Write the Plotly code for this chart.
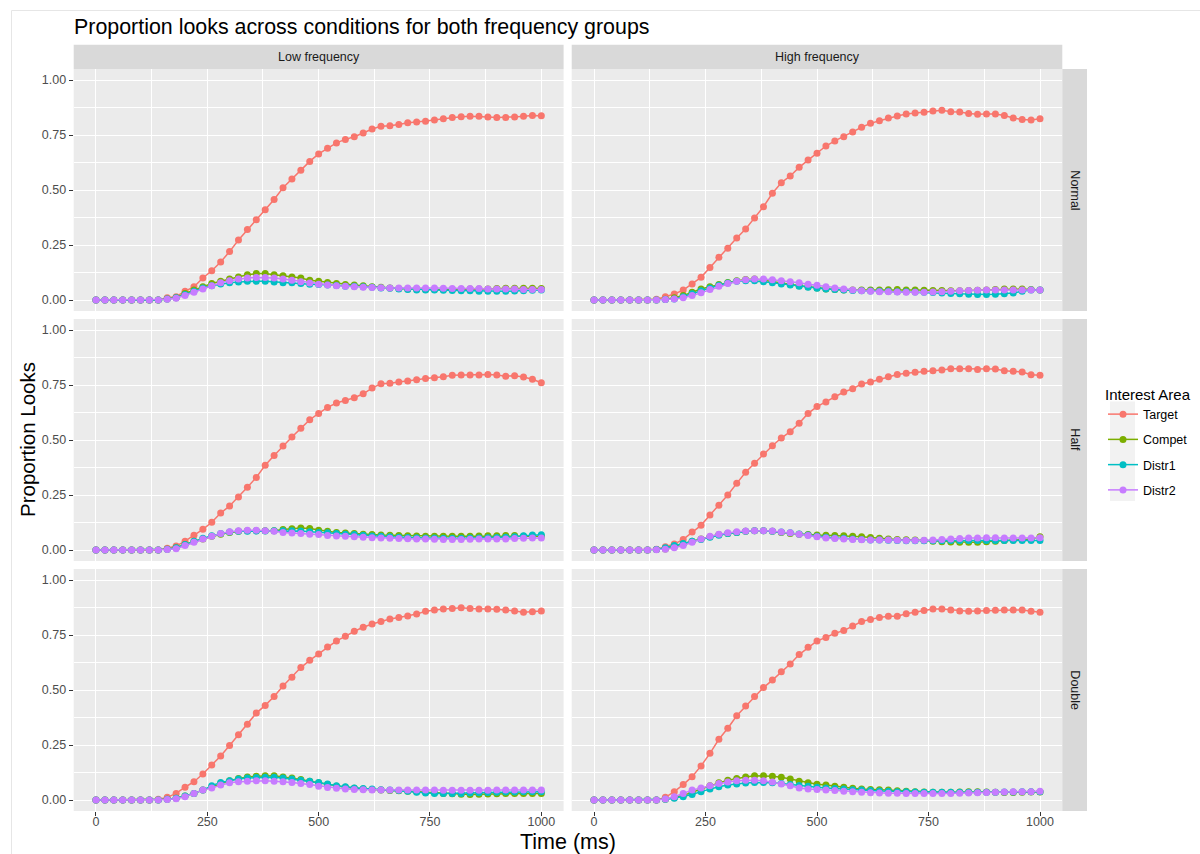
import plotly.graph_objects as go

# ---------------- data ----------------
time_ms = list(range(0, 1001, 20))

series_names = ["Target", "Compet", "Distr1", "Distr2"]
series_colors = ["#F8766D", "#7CAE00", "#00BFC4", "#C77CFF"]
freq_groups = ["Low frequency", "High frequency"]
conditions = ["Normal", "Half", "Double"]

y_tick_vals = [0, 0.25, 0.5, 0.75, 1.0]
y_tick_text = ["0.00", "0.25", "0.50", "0.75", "1.00"]
x_tick_vals = [0, 250, 500, 750, 1000]
x_tick_text = ["0", "250", "500", "750", "1000"]

# Low frequency / Normal
low_normal_target = [0, 0, 0, 0, 0, 0, 0, 0,
    0.010, 0.015, 0.040, 0.060, 0.100, 0.133, 0.173, 0.220, 0.273, 0.320,
    0.365, 0.410, 0.457, 0.510, 0.550, 0.590, 0.630, 0.664, 0.690, 0.714,
    0.730, 0.742, 0.759, 0.777, 0.790, 0.792, 0.798, 0.806, 0.809, 0.812,
    0.818, 0.824, 0.830, 0.833, 0.835, 0.835, 0.832, 0.830, 0.830, 0.832,
    0.835, 0.839, 0.838]
low_normal_compet = [0, 0, 0, 0, 0, 0, 0, 0,
    0.005, 0.010, 0.030, 0.045, 0.060, 0.075, 0.085, 0.095, 0.105, 0.115,
    0.120, 0.120, 0.115, 0.110, 0.105, 0.100, 0.090, 0.085, 0.080, 0.075,
    0.070, 0.068, 0.065, 0.060, 0.058, 0.055, 0.052, 0.050, 0.050, 0.048,
    0.048, 0.048, 0.048, 0.048, 0.050, 0.050, 0.050, 0.052, 0.053, 0.053,
    0.053, 0.053, 0.052]
low_normal_distr1 = [0, 0, 0, 0, 0, 0, 0, 0,
    0.005, 0.010, 0.025, 0.040, 0.055, 0.065, 0.073, 0.078, 0.082, 0.085,
    0.085, 0.085, 0.082, 0.078, 0.078, 0.075, 0.072, 0.070, 0.068, 0.066,
    0.063, 0.062, 0.060, 0.058, 0.055, 0.053, 0.050, 0.048, 0.046, 0.045,
    0.045, 0.044, 0.043, 0.042, 0.042, 0.040, 0.040, 0.040, 0.040, 0.041,
    0.042, 0.044, 0.046]
low_normal_distr2 = [0, 0, 0, 0, 0, 0, 0, 0,
    0.003, 0.008, 0.020, 0.035, 0.050, 0.065, 0.078, 0.088, 0.095, 0.100,
    0.102, 0.102, 0.100, 0.095, 0.090, 0.083, 0.077, 0.072, 0.068, 0.065,
    0.062, 0.060, 0.058, 0.057, 0.056, 0.055, 0.054, 0.055, 0.055, 0.055,
    0.054, 0.053, 0.052, 0.052, 0.052, 0.052, 0.050, 0.050, 0.050, 0.050,
    0.048, 0.048, 0.048]

# High frequency / Normal
high_normal_target = [0, 0, 0, 0, 0, 0, 0, 0.003,
    0.015, 0.027, 0.045, 0.073, 0.103, 0.148, 0.194, 0.235, 0.282, 0.323,
    0.373, 0.424, 0.485, 0.533, 0.564, 0.603, 0.636, 0.667, 0.700, 0.723,
    0.742, 0.764, 0.785, 0.803, 0.815, 0.827, 0.836, 0.845, 0.850, 0.853,
    0.859, 0.862, 0.856, 0.855, 0.848, 0.844, 0.845, 0.845, 0.839, 0.827,
    0.821, 0.818, 0.824]
high_normal_compet = [0, 0, 0, 0, 0, 0, 0, 0,
    0.003, 0.010, 0.020, 0.035, 0.050, 0.060, 0.070, 0.080, 0.088, 0.093,
    0.095, 0.090, 0.085, 0.080, 0.072, 0.065, 0.060, 0.055, 0.050, 0.048,
    0.046, 0.045, 0.045, 0.045, 0.046, 0.047, 0.048, 0.046, 0.045, 0.044,
    0.043, 0.043, 0.042, 0.042, 0.043, 0.044, 0.045, 0.048, 0.050, 0.050,
    0.050, 0.048, 0.045]
high_normal_distr1 = [0, 0, 0, 0, 0, 0, 0, 0,
    0.002, 0.005, 0.015, 0.028, 0.042, 0.055, 0.067, 0.077, 0.085, 0.088,
    0.087, 0.083, 0.078, 0.073, 0.068, 0.063, 0.058, 0.053, 0.050, 0.048,
    0.045, 0.043, 0.042, 0.041, 0.040, 0.040, 0.038, 0.037, 0.036, 0.035,
    0.034, 0.032, 0.030, 0.028, 0.026, 0.025, 0.025, 0.026, 0.028, 0.032,
    0.040, 0.045, 0.045]
high_normal_distr2 = [0, 0, 0, 0, 0, 0, 0, 0,
    0.002, 0.004, 0.010, 0.020, 0.033, 0.048, 0.062, 0.075, 0.085, 0.092,
    0.095, 0.095, 0.092, 0.088, 0.083, 0.078, 0.072, 0.067, 0.060, 0.055,
    0.050, 0.045, 0.042, 0.040, 0.038, 0.037, 0.036, 0.035, 0.035, 0.035,
    0.036, 0.038, 0.040, 0.042, 0.043, 0.044, 0.045, 0.045, 0.046, 0.046,
    0.046, 0.046, 0.046]

# Low frequency / Half
low_half_target = [0, 0, 0, 0, 0, 0, 0, 0,
    0.008, 0.018, 0.040, 0.067, 0.094, 0.126, 0.168, 0.200, 0.241, 0.285,
    0.330, 0.385, 0.430, 0.473, 0.514, 0.553, 0.592, 0.621, 0.648, 0.668,
    0.679, 0.692, 0.710, 0.736, 0.756, 0.758, 0.764, 0.768, 0.774, 0.780,
    0.783, 0.788, 0.794, 0.795, 0.795, 0.795, 0.798, 0.795, 0.790, 0.792,
    0.786, 0.776, 0.760]
low_half_compet = [0, 0, 0, 0, 0, 0, 0, 0,
    0.003, 0.010, 0.025, 0.040, 0.050, 0.062, 0.072, 0.080, 0.085, 0.087,
    0.088, 0.088, 0.088, 0.093, 0.097, 0.100, 0.098, 0.090, 0.085, 0.080,
    0.077, 0.075, 0.072, 0.070, 0.068, 0.067, 0.066, 0.065, 0.064, 0.063,
    0.063, 0.062, 0.062, 0.063, 0.063, 0.064, 0.065, 0.065, 0.066, 0.066,
    0.063, 0.062, 0.063]
low_half_distr1 = [0, 0, 0, 0, 0, 0, 0, 0,
    0.003, 0.010, 0.025, 0.040, 0.053, 0.065, 0.075, 0.082, 0.085, 0.085,
    0.086, 0.086, 0.087, 0.088, 0.088, 0.086, 0.083, 0.080, 0.078, 0.075,
    0.072, 0.070, 0.067, 0.064, 0.062, 0.060, 0.058, 0.057, 0.056, 0.055,
    0.054, 0.053, 0.053, 0.053, 0.054, 0.055, 0.056, 0.057, 0.058, 0.060,
    0.065, 0.068, 0.069]
low_half_distr2 = [0, 0, 0, 0, 0, 0, 0, 0,
    0.002, 0.006, 0.020, 0.035, 0.050, 0.063, 0.075, 0.083, 0.087, 0.090,
    0.090, 0.088, 0.085, 0.080, 0.077, 0.075, 0.072, 0.070, 0.066, 0.064,
    0.062, 0.060, 0.058, 0.056, 0.054, 0.053, 0.052, 0.051, 0.050, 0.050,
    0.049, 0.048, 0.048, 0.048, 0.049, 0.050, 0.050, 0.050, 0.050, 0.052,
    0.053, 0.054, 0.055]

# High frequency / Half
high_half_target = [0, 0, 0, 0, 0, 0, 0, 0.003,
    0.015, 0.027, 0.048, 0.082, 0.112, 0.159, 0.203, 0.250, 0.303, 0.353,
    0.394, 0.436, 0.474, 0.509, 0.538, 0.576, 0.621, 0.652, 0.673, 0.697,
    0.718, 0.733, 0.755, 0.764, 0.776, 0.788, 0.798, 0.803, 0.808, 0.812,
    0.815, 0.818, 0.824, 0.824, 0.824, 0.821, 0.824, 0.823, 0.815, 0.812,
    0.809, 0.797, 0.794]
high_half_compet = [0, 0, 0, 0, 0, 0, 0, 0.002,
    0.005, 0.015, 0.028, 0.040, 0.050, 0.060, 0.070, 0.075, 0.080, 0.085,
    0.088, 0.088, 0.085, 0.080, 0.075, 0.072, 0.070, 0.068, 0.067, 0.066,
    0.065, 0.063, 0.060, 0.057, 0.053, 0.050, 0.048, 0.047, 0.045, 0.043,
    0.040, 0.038, 0.036, 0.035, 0.035, 0.035, 0.037, 0.040, 0.043, 0.046,
    0.048, 0.050, 0.060]
high_half_distr1 = [0, 0, 0, 0, 0, 0, 0, 0.002,
    0.010, 0.020, 0.030, 0.040, 0.048, 0.058, 0.067, 0.075, 0.080, 0.085,
    0.088, 0.088, 0.085, 0.082, 0.078, 0.073, 0.068, 0.063, 0.058, 0.055,
    0.053, 0.050, 0.048, 0.046, 0.045, 0.044, 0.043, 0.042, 0.042, 0.042,
    0.042, 0.042, 0.043, 0.043, 0.043, 0.043, 0.043, 0.043, 0.043, 0.043,
    0.043, 0.043, 0.043]
high_half_distr2 = [0, 0, 0, 0, 0, 0, 0, 0.001,
    0.003, 0.010, 0.020, 0.035, 0.050, 0.062, 0.072, 0.078, 0.083, 0.086,
    0.088, 0.088, 0.086, 0.082, 0.078, 0.072, 0.066, 0.060, 0.055, 0.052,
    0.050, 0.048, 0.047, 0.046, 0.045, 0.045, 0.044, 0.043, 0.043, 0.044,
    0.045, 0.048, 0.050, 0.052, 0.054, 0.055, 0.056, 0.056, 0.055, 0.054,
    0.054, 0.055, 0.056]

# Low frequency / Double
low_double_target = [0, 0, 0, 0, 0, 0, 0, 0.003,
    0.012, 0.030, 0.058, 0.083, 0.118, 0.159, 0.200, 0.248, 0.297, 0.344,
    0.395, 0.430, 0.470, 0.518, 0.558, 0.602, 0.635, 0.664, 0.695, 0.723,
    0.744, 0.767, 0.785, 0.800, 0.811, 0.823, 0.830, 0.836, 0.845, 0.858,
    0.864, 0.868, 0.871, 0.874, 0.871, 0.868, 0.868, 0.867, 0.864, 0.859,
    0.853, 0.856, 0.859]
low_double_compet = [0, 0, 0, 0, 0, 0, 0, 0,
    0.003, 0.008, 0.018, 0.030, 0.045, 0.060, 0.075, 0.088, 0.098, 0.105,
    0.108, 0.110, 0.110, 0.105, 0.100, 0.093, 0.085, 0.078, 0.070, 0.063,
    0.058, 0.053, 0.050, 0.048, 0.045, 0.043, 0.042, 0.040, 0.038, 0.035,
    0.033, 0.030, 0.028, 0.026, 0.025, 0.026, 0.027, 0.028, 0.029, 0.030,
    0.030, 0.030, 0.030]
low_double_distr1 = [0, 0, 0, 0, 0, 0, 0, 0,
    0.003, 0.008, 0.018, 0.030, 0.045, 0.065, 0.080, 0.088, 0.095, 0.100,
    0.102, 0.103, 0.103, 0.100, 0.095, 0.090, 0.085, 0.080, 0.073, 0.065,
    0.060, 0.055, 0.052, 0.050, 0.047, 0.045, 0.043, 0.040, 0.035, 0.032,
    0.030, 0.030, 0.030, 0.030, 0.032, 0.033, 0.034, 0.035, 0.036, 0.036,
    0.037, 0.038, 0.038]
low_double_distr2 = [0, 0, 0, 0, 0, 0, 0, 0,
    0.002, 0.006, 0.015, 0.030, 0.045, 0.055, 0.068, 0.078, 0.083, 0.085,
    0.087, 0.087, 0.085, 0.083, 0.080, 0.075, 0.070, 0.063, 0.057, 0.053,
    0.050, 0.048, 0.047, 0.046, 0.046, 0.045, 0.045, 0.045, 0.045, 0.045,
    0.045, 0.044, 0.044, 0.044, 0.044, 0.044, 0.044, 0.045, 0.045, 0.046,
    0.046, 0.045, 0.046]

# High frequency / Double
high_double_target = [0, 0, 0, 0, 0, 0, 0, 0,
    0.012, 0.038, 0.070, 0.106, 0.155, 0.212, 0.276, 0.326, 0.383, 0.427,
    0.470, 0.511, 0.545, 0.583, 0.618, 0.661, 0.694, 0.723, 0.739, 0.758,
    0.770, 0.791, 0.811, 0.821, 0.830, 0.835, 0.835, 0.847, 0.853, 0.861,
    0.868, 0.868, 0.864, 0.859, 0.858, 0.859, 0.861, 0.862, 0.864, 0.864,
    0.864, 0.858, 0.853]
high_double_compet = [0, 0, 0, 0, 0, 0, 0, 0,
    0.003, 0.010, 0.020, 0.035, 0.050, 0.065, 0.078, 0.090, 0.098, 0.105,
    0.110, 0.110, 0.108, 0.103, 0.095, 0.085, 0.078, 0.072, 0.068, 0.062,
    0.058, 0.053, 0.050, 0.048, 0.047, 0.045, 0.042, 0.040, 0.038, 0.036,
    0.035, 0.035, 0.035, 0.036, 0.037, 0.037, 0.036, 0.035, 0.034, 0.034,
    0.035, 0.036, 0.036]
high_double_distr1 = [0, 0, 0, 0, 0, 0, 0, 0,
    0.003, 0.008, 0.015, 0.025, 0.038, 0.050, 0.060, 0.068, 0.073, 0.077,
    0.079, 0.080, 0.078, 0.075, 0.070, 0.066, 0.062, 0.058, 0.055, 0.052,
    0.050, 0.047, 0.045, 0.043, 0.041, 0.040, 0.038, 0.037, 0.036, 0.035,
    0.035, 0.035, 0.035, 0.035, 0.035, 0.035, 0.035, 0.035, 0.036, 0.036,
    0.037, 0.037, 0.037]
high_double_distr2 = [0, 0, 0, 0, 0, 0, 0, 0,
    0.005, 0.015, 0.030, 0.045, 0.055, 0.065, 0.075, 0.082, 0.088, 0.090,
    0.090, 0.088, 0.082, 0.073, 0.065, 0.055, 0.050, 0.048, 0.045, 0.043,
    0.040, 0.037, 0.035, 0.033, 0.032, 0.031, 0.031, 0.030, 0.030, 0.030,
    0.030, 0.030, 0.030, 0.031, 0.032, 0.033, 0.034, 0.035, 0.036, 0.037,
    0.038, 0.038, 0.040]

panel_data = {
    ("Normal", "Low frequency"): [low_normal_target, low_normal_compet, low_normal_distr1, low_normal_distr2],
    ("Normal", "High frequency"): [high_normal_target, high_normal_compet, high_normal_distr1, high_normal_distr2],
    ("Half", "Low frequency"): [low_half_target, low_half_compet, low_half_distr1, low_half_distr2],
    ("Half", "High frequency"): [high_half_target, high_half_compet, high_half_distr1, high_half_distr2],
    ("Double", "Low frequency"): [low_double_target, low_double_compet, low_double_distr1, low_double_distr2],
    ("Double", "High frequency"): [high_double_target, high_double_compet, high_double_distr1, high_double_distr2],
}

# ---------------- layout helpers ----------------
W, H = 1200, 854
def px_x(p):
    return p / W
def px_y(p):
    return 1 - p / H

col_px = [(73.7, 563.6), (571.7, 1062.3)]
row_px = [(69, 311), (319, 561), (569, 811)]
strip_top_px = 44.7
strip_right_px = 1087

FONT = "Liberation Sans, Arial, Helvetica, sans-serif"
TICK_FONT = dict(family=FONT, size=12.5, color="#4D4D4D")

fig = go.Figure()
layout_axes = {}

for r, cond in enumerate(conditions):
    for c, grp in enumerate(freq_groups):
        k = r * 2 + c + 1
        xs = "" if k == 1 else str(k)
        for name, color, yvals in zip(series_names, series_colors, panel_data[(cond, grp)]):
            fig.add_trace(go.Scatter(
                x=time_ms, y=yvals, mode="lines+markers", name=name,
                line=dict(color=color, width=1.5),
                marker=dict(color=color, size=7),
                xaxis="x" + xs, yaxis="y" + xs,
                legendgroup=name, showlegend=(k == 1),
                hoverinfo="x+y+name",
            ))
        bottom = (r == len(conditions) - 1)
        left = (c == 0)
        layout_axes["xaxis" + xs] = dict(
            domain=[px_x(col_px[c][0]), px_x(col_px[c][1])],
            anchor="y" + xs, range=[-50, 1050],
            tickmode="array", tickvals=x_tick_vals, ticktext=x_tick_text,
            showticklabels=bottom, ticks="outside" if bottom else "",
            ticklen=4, tickwidth=1, tickcolor="#333333", tickfont=TICK_FONT,
            ticklabelstandoff=-5,
            showgrid=True, gridcolor="white", gridwidth=1.1,
            minor=dict(tickmode="array", tickvals=[125, 375, 625, 875],
                       showgrid=True, gridcolor="white", gridwidth=0.55),
            zeroline=False, showline=False, fixedrange=True,
        )
        layout_axes["yaxis" + xs] = dict(
            domain=[px_y(row_px[r][1]), px_y(row_px[r][0])],
            anchor="x" + xs, range=[-0.05, 1.05],
            tickmode="array", tickvals=y_tick_vals, ticktext=y_tick_text,
            showticklabels=left, ticks="outside" if left else "",
            ticklen=4, tickwidth=1, tickcolor="#333333", tickfont=TICK_FONT,
            showgrid=True, gridcolor="white", gridwidth=1.1,
            minor=dict(tickmode="array", tickvals=[0.125, 0.375, 0.625, 0.875],
                       showgrid=True, gridcolor="white", gridwidth=0.55),
            zeroline=False, showline=False, fixedrange=True,
        )

shapes = []
annotations = []
# top strips
for c, grp in enumerate(freq_groups):
    shapes.append(dict(type="rect", xref="paper", yref="paper",
                       x0=px_x(col_px[c][0]), x1=px_x(col_px[c][1]),
                       y0=px_y(row_px[0][0]), y1=px_y(strip_top_px),
                       fillcolor="#D9D9D9", line=dict(width=0), layer="below"))
    annotations.append(dict(text=grp, xref="paper", yref="paper",
                            x=px_x((col_px[c][0] + col_px[c][1]) / 2),
                            y=px_y((row_px[0][0] + strip_top_px) / 2),
                            showarrow=False, xanchor="center", yanchor="middle",
                            font=dict(family=FONT, size=12.5, color="#1A1A1A")))
# right strips
for r, cond in enumerate(conditions):
    shapes.append(dict(type="rect", xref="paper", yref="paper",
                       x0=px_x(col_px[1][1]), x1=px_x(strip_right_px),
                       y0=px_y(row_px[r][1]), y1=px_y(row_px[r][0]),
                       fillcolor="#D9D9D9", line=dict(width=0), layer="below"))
    annotations.append(dict(text=cond, xref="paper", yref="paper",
                            x=px_x((col_px[1][1] + strip_right_px) / 2),
                            y=px_y((row_px[r][0] + row_px[r][1]) / 2),
                            showarrow=False, xanchor="center", yanchor="middle",
                            textangle=90,
                            font=dict(family=FONT, size=12.5, color="#1A1A1A")))

# legend key background
shapes.append(dict(type="rect", xref="paper", yref="paper",
                   x0=px_x(1110), x1=px_x(1135), y0=px_y(501), y1=px_y(401.5),
                   fillcolor="#F2F2F2", line=dict(width=0), layer="above"))

# screenshot frame
shapes.append(dict(type="rect", xref="paper", yref="paper",
                   x0=px_x(11.5), x1=px_x(1300), y0=px_y(900), y1=px_y(10.5),
                   fillcolor="rgba(0,0,0,0)", line=dict(width=1, color="#E6E6E6"),
                   layer="below"))

# titles
annotations.append(dict(text="Proportion looks across conditions for both frequency groups",
                        xref="paper", yref="paper", x=px_x(72), y=px_y(27),
                        xanchor="left", yanchor="middle", showarrow=False,
                        font=dict(family=FONT, size=21.4, color="#000000")))
annotations.append(dict(text="Time (ms)", xref="paper", yref="paper",
                        x=px_x((col_px[0][0] + col_px[1][1]) / 2), y=px_y(842),
                        xanchor="center", yanchor="middle", showarrow=False,
                        font=dict(family=FONT, size=21.5, color="#000000")))
annotations.append(dict(text="Proportion Looks", xref="paper", yref="paper",
                        x=px_x(27), y=px_y((row_px[0][0] + row_px[2][1]) / 2),
                        xanchor="center", yanchor="middle", showarrow=False,
                        textangle=-90,
                        font=dict(family=FONT, size=20.5, color="#000000")))

fig.update_layout(
    width=W, height=H, autosize=False,
    margin=dict(l=0, r=0, t=0, b=0),
    paper_bgcolor="white", plot_bgcolor="#EBEBEB",
    font=dict(family=FONT, color="#1A1A1A"),
    shapes=shapes, annotations=annotations,
    showlegend=True,
    legend=dict(
        title=dict(text="Interest Area", font=dict(family=FONT, size=15, color="#000000")),
        x=px_x(1103), xanchor="left", y=px_y(380), yanchor="top",
        bgcolor="rgba(0,0,0,0)", borderwidth=0,
        font=dict(family=FONT, size=12.5, color="#000000"),
        tracegroupgap=6, itemwidth=30,
    ),
    **layout_axes,
)

fig.write_html("out.html")
